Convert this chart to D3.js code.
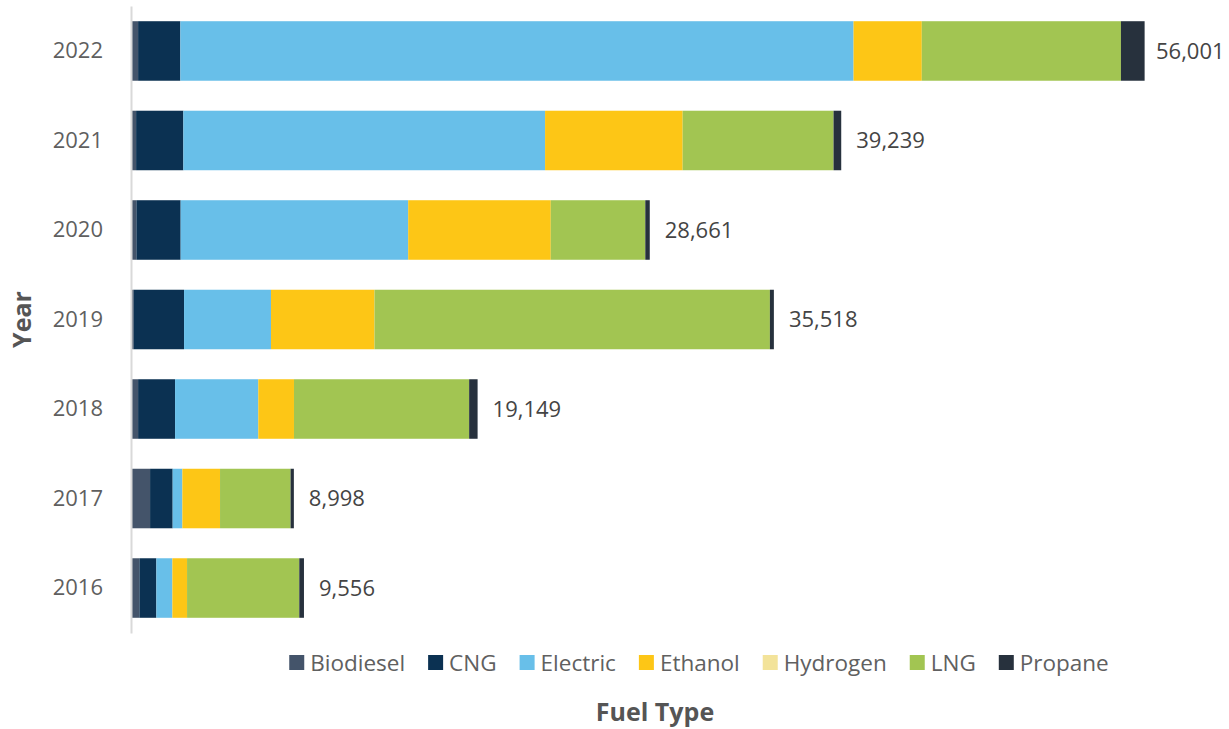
<!DOCTYPE html>
<html>
<head>
<meta charset="utf-8">
<script src="https://cdn.jsdelivr.net/npm/d3@7"></script>
<style>
  body { margin: 0; background: #fff; }
  text { font-family: "Open Sans", sans-serif; }
</style>
</head>
<body>
<script>
// chart data
const years = ["2022", "2021", "2020", "2019", "2018", "2017", "2016"];
const fuels = ["Biodiesel", "CNG", "Electric", "Ethanol", "Hydrogen", "LNG", "Propane"];
const colors = ["#44546a", "#0b3152", "#68bfe9", "#fdc616", "#f3e39a", "#a2c552", "#27313d"];

const biodiesel = [392, 282, 298, 149, 392, 1054, 464];
const cng       = [2335, 2611, 2446, 2782, 2043, 1248, 938];
const electric  = [37193, 19984, 12570, 4803, 4598, 536, 884];
const ethanol   = [3770, 7602, 7878, 5720, 1971, 2081, 811];
const hydrogen  = [0, 0, 0, 0, 0, 0, 0];
const lng       = [11002, 8336, 5222, 21845, 9678, 3897, 6200];
const propane   = [1309, 424, 247, 219, 467, 182, 259];
const totals    = [56001, 39239, 28661, 35518, 19149, 8998, 9556];

const series = [biodiesel, cng, electric, ethanol, hydrogen, lng, propane];

const W = 1229, H = 729;
const margin = { top: 6, right: 12, bottom: 96, left: 131 };

const rows = years.map((y, i) => {
  const r = { year: y, total: totals[i] };
  fuels.forEach((f, j) => (r[f] = series[j][i]));
  return r;
});

const svg = d3.select("body").append("svg")
  .attr("width", W)
  .attr("height", H);

const x = d3.scaleLinear()
  .domain([0, 60000])
  .range([margin.left, W - margin.right]);

const y = d3.scaleBand()
  .domain(years)
  .range([margin.top, H - margin.bottom])
  .paddingInner(0.335)
  .paddingOuter(0.17);

const color = d3.scaleOrdinal().domain(fuels).range(colors);

const stacked = d3.stack().keys(fuels)(rows);

svg.append("g")
  .selectAll("g")
  .data(stacked)
  .join("g")
  .attr("fill", (d) => color(d.key))
  .selectAll("rect")
  .data((d) => d)
  .join("rect")
  .attr("x", (d) => x(d[0]))
  .attr("y", (d) => y(d.data.year))
  .attr("width", (d) => Math.max(0, x(d[1]) - x(d[0])))
  .attr("height", y.bandwidth());

// total labels at the end of each bar
svg.append("g")
  .selectAll("text")
  .data(rows)
  .join("text")
  .attr("x", (d) => Math.min(x(d.total) + 15, 1156))
  .attr("y", (d) => y(d.year) + y.bandwidth() / 2)
  .attr("dy", "0.36em")
  .style("font-size", "22px")
  .style("fill", "#444444")
  .text((d) => d3.format(",")(d.total));

// y axis
const yAxis = svg.append("g")
  .attr("transform", `translate(${margin.left},0)`)
  .call(d3.axisLeft(y).tickSize(0).tickPadding(28));
yAxis.select(".domain").attr("stroke", "#d9d9d9").attr("stroke-width", 2);
yAxis.selectAll("text")
  .style("font-size", "22px")
  .style("font-family", "'Open Sans', sans-serif")
  .style("fill", "#5f5f5f");

svg.append("text")
  .attr("transform", `translate(22,${(margin.top + H - margin.bottom) / 2}) rotate(-90)`)
  .attr("text-anchor", "middle")
  .attr("dy", "0.35em")
  .style("font-size", "25px")
  .style("font-weight", "bold")
  .style("fill", "#555555")
  .text("Year");

// legend
const legend = svg.append("g").attr("transform", "translate(0,662.5)");
const items = legend.selectAll("g").data(fuels).join("g");
items.append("rect")
  .attr("y", -7.5)
  .attr("width", 15)
  .attr("height", 15)
  .attr("fill", (d) => color(d));
items.append("text")
  .attr("x", 21)
  .attr("dy", "0.36em")
  .style("font-size", "22.5px")
  .style("fill", "#606060")
  .text((d) => d);

let cursor = 0;
const offsets = [];
items.each(function () {
  offsets.push(cursor);
  const w = d3.select(this).select("text").node().getComputedTextLength();
  cursor += 21 + w + 23;
});
const legendWidth = cursor - 23;
const legendStart = 699 - legendWidth / 2;
items.attr("transform", (d, i) => `translate(${legendStart + offsets[i]},0)`);

svg.append("text")
  .attr("x", 655)
  .attr("y", 712)
  .attr("text-anchor", "middle")
  .attr("dy", "0.35em")
  .style("font-size", "25px")
  .style("font-weight", "bold")
  .style("fill", "#555555")
  .text("Fuel Type");
</script>
</body>
</html>
